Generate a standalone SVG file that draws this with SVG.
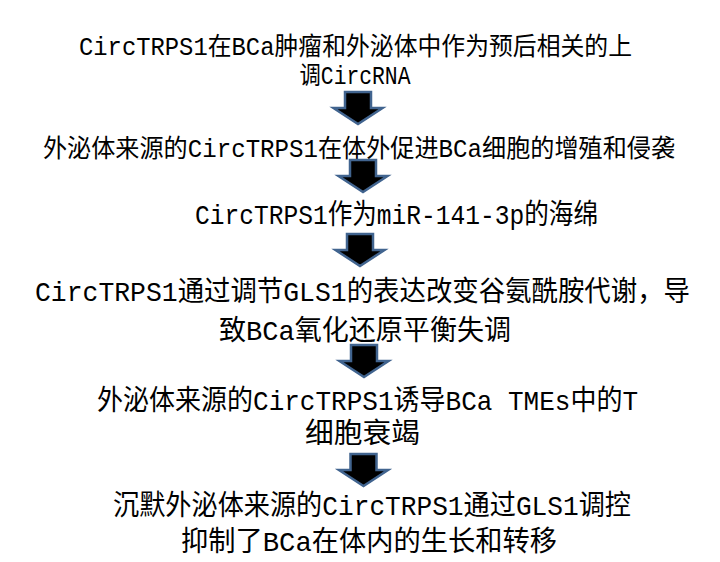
<svg xmlns="http://www.w3.org/2000/svg" xmlns:xlink="http://www.w3.org/1999/xlink" width="720" height="562" viewBox="0 0 720 562">
<style>
.t{font-family:"Liberation Mono","Noto Sans CJK SC",monospace;fill:#000;text-anchor:middle}
.s25{font-size:25px}
.s28{font-size:28px}
.arr{fill:#000;stroke:#41648f;stroke-width:2.5;stroke-linejoin:miter}
</style>
<defs>
<path id="arrow" class="arr" d="M-13,0 H13 V16 H24.5 L0,32 L-24.5,16 H-13 Z"/>
</defs>
<rect width="720" height="562" fill="#fff"/>
<g id="node1">
<text class="t s25" x="355.5" y="55" textLength="553" lengthAdjust="spacingAndGlyphs">CircTRPS1在BCa肿瘤和外泌体中作为预后相关的上</text>
<text class="t s25" x="355" y="84" textLength="111" lengthAdjust="spacingAndGlyphs">调CircRNA</text>
</g>
<g id="node2">
<text class="t s25" x="359" y="157" textLength="632" lengthAdjust="spacingAndGlyphs">外泌体来源的CircTRPS1在体外促进BCa细胞的增殖和侵袭</text>
</g>
<g id="node3">
<text class="t s28" x="396.5" y="224" textLength="403" lengthAdjust="spacingAndGlyphs">CircTRPS1作为miR-141-3p的海绵</text>
</g>
<g id="node4">
<text class="t s28" x="362.5" y="301" textLength="655" lengthAdjust="spacingAndGlyphs">CircTRPS1通过调节GLS1的表达改变谷氨酰胺代谢，导</text>
<text class="t s28" x="365" y="340" textLength="292" lengthAdjust="spacingAndGlyphs">致BCa氧化还原平衡失调</text>
</g>
<g id="node5">
<text class="t s28" x="367.5" y="410" textLength="541" lengthAdjust="spacingAndGlyphs">外泌体来源的CircTRPS1诱导BCa TMEs中的T</text>
<text class="t s28" x="362.5" y="443" textLength="115" lengthAdjust="spacingAndGlyphs">细胞衰竭</text>
</g>
<g id="node6">
<text class="t s28" x="372" y="515" textLength="518" lengthAdjust="spacingAndGlyphs">沉默外泌体来源的CircTRPS1通过GLS1调控</text>
<text class="t s28" x="369" y="551" textLength="376" lengthAdjust="spacingAndGlyphs">抑制了BCa在体内的生长和转移</text>
</g>
<g id="connectors">
<use xlink:href="#arrow" href="#arrow" transform="translate(358,92)"/>
<use xlink:href="#arrow" href="#arrow" transform="translate(363,160)"/>
<use xlink:href="#arrow" href="#arrow" transform="translate(360,234)"/>
<use xlink:href="#arrow" href="#arrow" transform="translate(364,345)"/>
<use xlink:href="#arrow" href="#arrow" transform="translate(363.5,454)"/>
</g>
</svg>
